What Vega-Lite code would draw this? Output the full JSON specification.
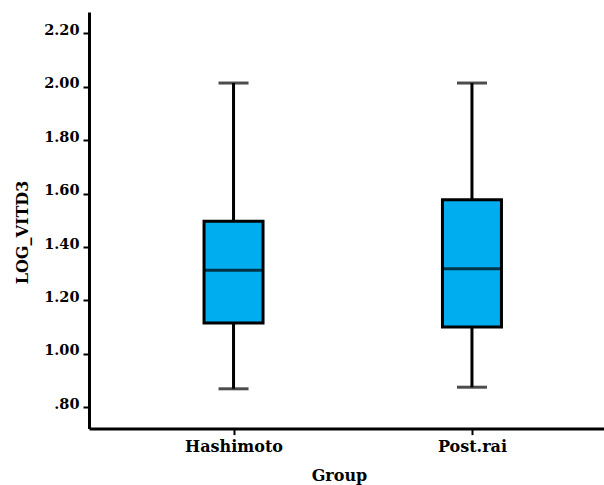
{
  "$schema": "https://vega.github.io/schema/vega-lite/v6.json",
  "autosize": "none",
  "width": 515,
  "height": 416.6,
  "padding": {"left": 89, "top": 12, "right": 0, "bottom": 56.4},
  "background": "white",
  "config": {
    "view": {"stroke": null},
    "font": "DejaVu Serif",
    "axis": {
      "grid": false,
      "domainColor": "black",
      "domainWidth": 3,
      "tickColor": "black",
      "tickWidth": 2,
      "labelColor": "black",
      "labelFont": "DejaVu Serif",
      "labelFontWeight": "bold",
      "titleColor": "black",
      "titleFont": "DejaVu Serif",
      "titleFontWeight": "bold",
      "titleFontSize": 16
    }
  },
  "data": {
    "values": [
      {"Group": "Hashimoto", "min": 0.869, "q1": 1.115, "median": 1.313, "q3": 1.496, "max": 2.014},
      {"Group": "Post.rai", "min": 0.875, "q1": 1.10, "median": 1.319, "q3": 1.577, "max": 2.014}
    ]
  },
  "encoding": {
    "x": {
      "field": "Group",
      "type": "nominal",
      "sort": null,
      "scale": {"type": "point", "padding": 0.58, "align": 0.5226},
      "axis": {
        "title": "Group",
        "labelAngle": 0,
        "labelFontSize": 16,
        "tickSize": 6,
        "labelPadding": 4,
        "titleX": 250,
        "titleY": 52,
        "titleBaseline": "alphabetic"
      }
    }
  },
  "layer": [
    {
      "mark": {"type": "rule", "color": "black", "strokeWidth": 3},
      "encoding": {
        "y": {
          "field": "min",
          "type": "quantitative",
          "scale": {"domain": [0.72, 2.28], "nice": false, "zero": false},
          "axis": {
            "title": "LOG_VITD3",
            "values": [0.8, 1.0, 1.2, 1.4, 1.6, 1.8, 2.0, 2.2],
            "labelExpr": "replace(format(datum.value, '.2f'), /^0/, '')",
            "labelFontSize": 14.5,
            "tickSize": 6,
            "labelPadding": 4,
            "labelBaseline": "alphabetic",
            "labelOffset": 1,
            "titleX": -62,
            "titleY": 220,
            "titleBaseline": "alphabetic",
            "titleAngle": -90
          }
        },
        "y2": {"field": "max"}
      }
    },
    {
      "mark": {"type": "bar", "size": 59, "fill": "#00ADEE", "stroke": "black", "strokeWidth": 3},
      "encoding": {
        "y": {"field": "q1", "type": "quantitative"},
        "y2": {"field": "q3"}
      }
    },
    {
      "mark": {"type": "tick", "size": 59, "thickness": 3, "color": "black", "orient": "horizontal"},
      "encoding": {
        "y": {"field": "median", "type": "quantitative"}
      }
    },
    {
      "mark": {"type": "tick", "size": 30, "thickness": 3, "color": "black", "orient": "horizontal"},
      "encoding": {
        "y": {"field": "min", "type": "quantitative"}
      }
    },
    {
      "mark": {"type": "tick", "size": 30, "thickness": 3, "color": "black", "orient": "horizontal"},
      "encoding": {
        "y": {"field": "max", "type": "quantitative"}
      }
    }
  ]
}
